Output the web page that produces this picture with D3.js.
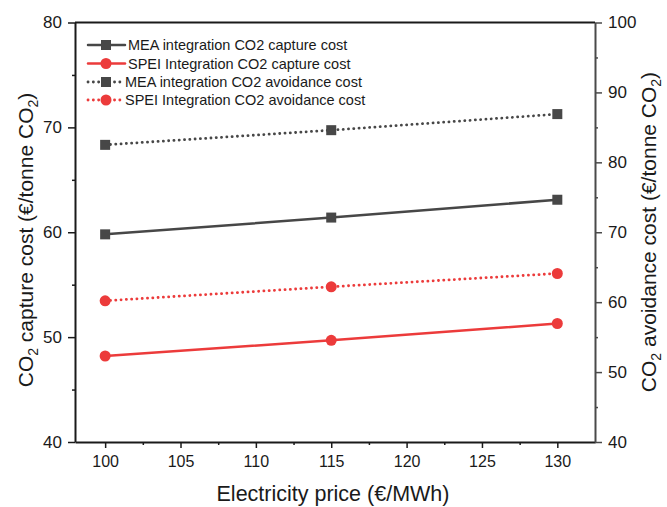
<!DOCTYPE html>
<html>
<head>
<meta charset="utf-8">
<script src="https://cdn.jsdelivr.net/npm/d3@7"></script>
<style>
  body { margin: 0; background: #fff; }
  svg { font-family: "Liberation Sans", Arial, sans-serif; }
</style>
</head>
<body>
<svg id="chart" width="667" height="507"></svg>
<script>
// electricity prices (€/MWh)
var prices = [100, 115, 130];
// capture costs on left axis (€/tonne CO2)
var meaCapture = [59.8, 61.4, 63.1];
var speiCapture = [48.2, 49.7, 51.3];
// avoidance costs on right axis (€/tonne CO2)
var meaAvoid = [82.5, 84.6, 86.9];
var speiAvoid = [60.2, 62.2, 64.1];

var xTicks = [100, 105, 110, 115, 120, 125, 130];
var xMinor = [102.5, 107.5, 112.5, 117.5, 122.5, 127.5];
var leftTicks = [40, 50, 60, 70, 80];
var leftMinor = [45, 55, 65, 75];
var rightTicks = [40, 50, 60, 70, 80, 90, 100];
var rightMinor = [45, 55, 65, 75, 85, 95];

var legendNames = [
  "MEA integration CO2 capture cost",
  "SPEI Integration CO2 capture cost",
  "MEA integration CO2 avoidance cost",
  "SPEI Integration CO2 avoidance cost"
];

var grey = "#474747", red = "#ec3b3b";

var svg = d3.select("#chart");
// plot box (don't use "top" as a global name, it's window.top)
var pLeft = 75, pRight = 595, pTop = 22.5, pBottom = 442;

var x = d3.scaleLinear().domain([98, 132.5]).range([pLeft, pRight]);
var yL = d3.scaleLinear().domain([40, 80]).range([pBottom, pTop]);
var yR = d3.scaleLinear().domain([40, 100]).range([pBottom, pTop]);

// top frame line
svg.append("line")
  .attr("x1", pLeft).attr("x2", pRight)
  .attr("y1", pTop).attr("y2", pTop)
  .attr("stroke", "#1a1a1a").attr("stroke-width", 2);

function styleAxis(g, color, size) {
  g.select(".domain").attr("stroke", color).attr("stroke-width", 2);
  g.selectAll(".tick line").attr("stroke", color).attr("stroke-width", 1.5);
  g.selectAll(".tick text").attr("fill", "#1a1a1a").style("font-size", size + "px");
}

function minorTicks(g, color) {
  g.select(".domain").remove();
  g.selectAll("line").attr("stroke", color).attr("stroke-width", 1.5);
}

// x axis
var gx = svg.append("g").attr("transform", "translate(0," + pBottom + ")")
  .call(d3.axisBottom(x).tickValues(xTicks).tickSize(6).tickPadding(8).tickSizeOuter(0));
styleAxis(gx, "#1a1a1a", 16);
svg.append("g").attr("transform", "translate(0," + pBottom + ")")
  .call(d3.axisBottom(x).tickValues(xMinor).tickSize(3).tickFormat("").tickSizeOuter(0))
  .call(minorTicks, "#1a1a1a");

// left axis
var gl = svg.append("g").attr("transform", "translate(" + pLeft + ",0)")
  .call(d3.axisLeft(yL).tickValues(leftTicks).tickSize(7).tickPadding(6).tickSizeOuter(0));
styleAxis(gl, "#1a1a1a", 17);
svg.append("g").attr("transform", "translate(" + pLeft + ",0)")
  .call(d3.axisLeft(yL).tickValues(leftMinor).tickSize(3).tickFormat("").tickSizeOuter(0))
  .call(minorTicks, "#1a1a1a");

// right axis
var gr = svg.append("g").attr("transform", "translate(" + pRight + ",0)")
  .call(d3.axisRight(yR).tickValues(rightTicks).tickSize(7).tickPadding(6).tickSizeOuter(0));
styleAxis(gr, "#4a4a4a", 17);
svg.append("g").attr("transform", "translate(" + pRight + ",0)")
  .call(d3.axisRight(yR).tickValues(rightMinor).tickSize(3).tickFormat("").tickSizeOuter(0))
  .call(minorTicks, "#4a4a4a");

// axis titles
svg.append("text")
  .attr("x", 333).attr("y", 501)
  .attr("text-anchor", "middle").style("font-size", "21.5px").attr("fill", "#1a1a1a")
  .text("Electricity price (€/MWh)");

function co2Title(tx, ty, label) {
  var t = svg.append("text")
    .attr("transform", "translate(" + tx + "," + ty + ") rotate(-90)")
    .attr("text-anchor", "middle").style("font-size", "21px").attr("fill", "#1a1a1a");
  t.append("tspan").text("CO");
  t.append("tspan").attr("dy", 5).style("font-size", "14px").text("2");
  t.append("tspan").attr("dy", -5).text(" " + label + " (€/tonne CO");
  t.append("tspan").attr("dy", 5).style("font-size", "14px").text("2");
  t.append("tspan").attr("dy", -5).text(")");
}
co2Title(33, 240, "capture cost");
co2Title(656, 232, "avoidance cost");

// series
var series = [
  { vals: meaCapture, y: yL, color: grey, dash: null, shape: "square" },
  { vals: speiCapture, y: yL, color: red, dash: null, shape: "circle" },
  { vals: meaAvoid, y: yR, color: grey, dash: "0.1,5.2", shape: "square" },
  { vals: speiAvoid, y: yR, color: red, dash: "0.1,5.2", shape: "circle" }
];

function drawMarker(g, shape, color, cx, cy) {
  if (shape === "square") {
    g.append("rect").attr("x", cx - 5).attr("y", cy - 5).attr("width", 10).attr("height", 10).attr("fill", color);
  } else {
    g.append("circle").attr("cx", cx).attr("cy", cy).attr("r", 5.5).attr("fill", color);
  }
}

series.forEach(function(s) {
  var pts = prices.map(function(p, i) { return [x(p), s.y(s.vals[i])]; });
  svg.append("path")
    .attr("d", d3.line()(pts))
    .attr("fill", "none")
    .attr("stroke", s.color)
    .attr("stroke-width", s.dash ? 2.8 : 2.5)
    .attr("stroke-linecap", "round")
    .attr("stroke-dasharray", s.dash);
  var g = svg.append("g");
  pts.forEach(function(p) { drawMarker(g, s.shape, s.color, p[0], p[1]); });
});

// legend
var legendY = [45, 63.5, 82, 100];
series.forEach(function(s, i) {
  var g = svg.append("g");
  var yy = legendY[i];
  g.append("line")
    .attr("x1", 88).attr("x2", s.dash ? 122 : 125)
    .attr("y1", yy).attr("y2", yy)
    .attr("stroke", s.color).attr("stroke-width", s.dash ? 2.8 : 2.5)
    .attr("stroke-linecap", "round")
    .attr("stroke-dasharray", s.dash);
  drawMarker(g, s.shape, s.color, 106, yy);
  g.append("text")
    .attr("x", s.dash ? 125 : 128).attr("y", yy + 5)
    .style("font-size", "14.5px").attr("fill", "#1a1a1a")
    .text(legendNames[i]);
});
</script>
</body>
</html>
